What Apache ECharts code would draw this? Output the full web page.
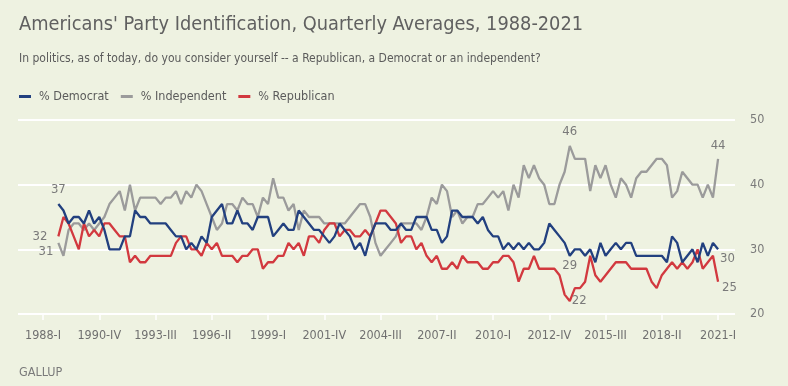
<!DOCTYPE html>
<html><head><meta charset="utf-8">
<script src="https://cdn.jsdelivr.net/npm/echarts@6/dist/echarts.min.js"></script>
<style>html,body{margin:0;padding:0;background:#eef2e1;}#c{width:788px;height:386px;}</style>
</head><body><div id="c"></div>
<script>
// quarter categories 1988-I .. 2021-I
const quarters = [];
for (let y = 1988; y <= 2021; y++) {
  for (const q of ['I','II','III','IV']) {
    if (y === 2021 && q !== 'I') break;
    quarters.push(y + '-' + q);
  }
}
const tickLabels = ['1988-I','1990-IV','1993-III','1996-II','1999-I','2001-IV','2004-III','2007-II','2010-I','2012-IV','2015-III','2018-II','2021-I'];
const yTicks = [20, 30, 40, 50];

const democrat = [null,null,null,
  37,36,34,35,35,34,36,34,35,33,
  30,30,30,32,32,36,35,35,34,34,
  34,34,33,32,32,30,31,30,32,31,
  35,36,37,34,34,36,34,34,33,35,
  35,35,32,33,34,33,33,36,35,34,
  33,33,32,31,32,34,33,32,30,31,
  29,32,34,34,34,33,33,34,33,33,
  35,35,35,33,33,31,32,36,36,35,
  35,35,34,35,33,32,32,30,31,30,
  31,30,31,30,30,31,34,33,32,31,
  29,30,30,29,30,28,31,29,30,31,
  30,31,31,29,29,29,29,29,29,28,
  32,31,28,29,30,28,31,29,31,30];
const independent = [null,null,null,
  31,29,33,34,34,33,34,33,34,35,
  37,38,39,36,40,36,38,38,38,38,
  37,38,38,39,37,39,38,40,39,37,
  35,33,34,37,37,36,38,37,37,35,
  38,37,41,38,38,36,37,33,36,35,
  35,35,34,34,34,34,34,35,36,37,
  37,35,31,29,30,31,32,34,34,34,
  34,33,35,38,37,40,39,35,36,34,
  35,35,37,37,38,39,38,39,36,40,
  38,43,41,43,41,40,37,37,40,42,
  46,44,44,44,39,43,41,43,40,38,
  41,40,38,41,42,42,43,44,44,43,
  38,39,42,41,40,40,38,40,38,44];
const republican = [null,null,null,
  32,35,34,32,30,34,32,33,32,34,
  34,33,32,32,28,29,28,28,29,29,
  29,29,29,31,32,32,30,30,29,31,
  30,31,29,29,29,28,29,29,30,30,
  27,28,28,29,29,31,30,31,29,32,
  32,31,33,34,34,32,33,33,32,32,
  33,32,34,36,36,35,34,31,32,32,
  30,31,29,28,29,27,27,28,27,29,
  28,28,28,27,27,28,28,29,29,28,
  25,27,27,29,27,27,27,27,26,23,
  22,24,24,25,29,26,25,26,27,28,
  28,28,27,27,27,27,25,24,26,27,
  28,27,28,27,28,30,27,28,29,25];

const FONT = '"Liberation Sans Narrow","DejaVu Sans Condensed",Roboto,sans-serif';
const LBL = {show: true, fontSize: 13, color: '#7a7a7a', fontFamily: FONT};

// label placements (style only)
const labelsDem = {3: {position: 'top', distance: 8}, 103: {position: 'bottom', distance: 3}, 132: {position: 'right', distance: 2, offset: [0, 9]}};
const labelsInd = {3: {position: 'left', distance: 5, offset: [0, 9]}, 103: {position: 'top', distance: 8}, 132: {position: 'top', distance: 7}};
const labelsRep = {3: {position: 'left', distance: 11}, 103: {position: 'right', distance: 2}, 132: {position: 'right', distance: 4, offset: [0, 6]}};

function build(arr, labels) {
  return arr.map((v, i) => {
    const item = {value: [i, v]};
    if (labels[i] && v != null) item.label = Object.assign({}, LBL, labels[i]);
    return item;
  });
}

const tickIdx = tickLabels.map(t => quarters.indexOf(t));

const chart = echarts.init(document.getElementById('c'), null, {renderer: 'canvas'});
chart.setOption({
  backgroundColor: '#eef2e1',
  animation: false,
  title: [
    {text: "Americans' Party Identification, Quarterly Averages, 1988-2021", left: 14, top: 10,
     textStyle: {fontSize: 19.8, fontWeight: 'normal', color: '#606060', fontFamily: FONT}},
    {text: 'In politics, as of today, do you consider yourself -- a Republican, a Democrat or an independent?', left: 14, top: 48,
     textStyle: {fontSize: 12, fontWeight: 'normal', color: '#5b5b5b', fontFamily: FONT}},
    {text: 'GALLUP', left: 14, top: 361,
     textStyle: {fontSize: 12.5, fontWeight: 'normal', color: '#7a7a7a', fontFamily: FONT}}
  ],
  legend: {
    left: 14, top: 85, icon: 'rect', itemWidth: 12, itemHeight: 3, itemGap: 12,
    textStyle: {fontSize: 12.5, color: '#5b5b5b', fontFamily: FONT, padding: [0, 0, 0, 3]},
    data: ['% Democrat', '% Independent', '% Republican']
  },
  grid: {left: 18, right: 53, top: 120, bottom: 72},
  xAxis: {
    type: 'value', min: -4.889, max: 135.31,
    axisLine: {show: false},
    splitLine: {show: false},
    axisTick: {show: true, customValues: tickIdx, length: 6, lineStyle: {color: '#ffffff', width: 1.5}},
    axisLabel: {customValues: tickIdx, margin: 15, fontSize: 12.5, color: '#707070', fontFamily: FONT,
      formatter: v => quarters[Math.round(v)]}
  },
  yAxis: {
    type: 'value', position: 'right', min: 20, max: 50, interval: 10,
    axisLine: {show: false}, axisTick: {show: false},
    axisLabel: {margin: 15, fontSize: 12.5, color: '#7a7a7a', fontFamily: FONT, formatter: v => yTicks.includes(v) ? String(v) : ''},
    splitLine: {lineStyle: {color: '#ffffff', width: 2}}
  },
  series: [
    {name: '% Democrat', type: 'line', data: build(democrat, labelsDem), symbol: 'circle', symbolSize: 0, showSymbol: true,
     lineStyle: {color: '#22407f', width: 2.3}, itemStyle: {color: '#22407f'}, z: 3},
    {name: '% Independent', type: 'line', data: build(independent, labelsInd), symbol: 'circle', symbolSize: 0, showSymbol: true,
     lineStyle: {color: '#9b9b9b', width: 2.3}, itemStyle: {color: '#9b9b9b'}, z: 2},
    {name: '% Republican', type: 'line', data: build(republican, labelsRep), symbol: 'circle', symbolSize: 0, showSymbol: true,
     lineStyle: {color: '#d2393f', width: 2.3}, itemStyle: {color: '#d2393f'}, z: 2}
  ]
});
</script></body></html>
